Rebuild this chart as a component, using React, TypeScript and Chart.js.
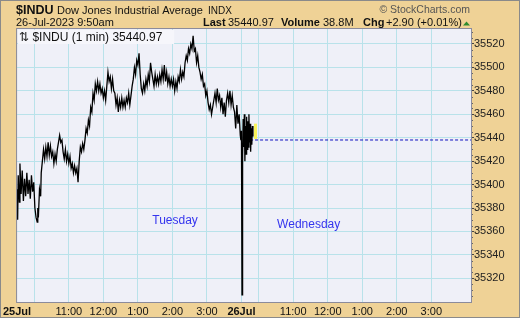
import React, { useEffect, useRef } from "react";
import { Chart, registerables } from "chart.js";

Chart.register(...registerables);

// ---- data (minute index from 25-Jul 9:30; 26-Jul session starts at 390) ----
const minutes = [
  0, 1, 2, 4, 5, 7, 9, 11, 13, 15, 17, 19, 21, 23, 25, 27, 29, 31, 33, 35, 36, 37, 39, 41, 42, 44, 46, 48, 50,
  52, 54, 56, 58, 60, 62, 64, 66, 68, 70, 72, 74, 76, 78, 80, 82, 84, 86, 88, 90, 92, 94, 96, 98, 100, 102,
  104, 106, 108, 110, 112, 114, 116, 118, 120, 122, 124, 126, 128, 130, 132, 134, 136, 138, 140, 142, 144,
  146, 148, 150, 152, 154, 156, 158, 160, 162, 164, 166, 168, 170, 172, 174, 176, 178, 180, 182, 184, 186,
  188, 190, 192, 194, 196, 198, 200, 202, 204, 206, 208, 210, 212, 214, 216, 218, 220, 222, 224, 226, 228,
  230, 232, 234, 236, 238, 240, 242, 244, 246, 248, 250, 252, 254, 256, 258, 260, 262, 264, 266, 268, 270,
  272, 274, 276, 278, 280, 282, 284, 286, 288, 290, 292, 294, 296, 298, 300, 302, 304, 306, 308, 310, 312,
  314, 316, 318, 320, 322, 324, 326, 328, 330, 332, 334, 336, 338, 340, 342, 344, 346, 348, 350, 352, 354,
  356, 358, 360, 362, 364, 366, 368, 370, 372, 374, 376, 378, 380, 382, 384, 386, 388, 389,
  390, 391, 392, 393, 394, 395, 396, 397, 398, 399, 400, 401, 402, 403, 404, 405, 406, 407, 408, 409, 410,
];
const prices = [
  35396, 35370, 35408, 35385, 35418, 35392, 35412, 35386, 35405, 35390, 35410, 35392, 35404, 35388, 35408,
  35394, 35402, 35380, 35372, 35368, 35380, 35372, 35396, 35390, 35410, 35420, 35430, 35422, 35432, 35424,
  35436, 35425, 35433, 35424, 35428, 35418, 35426, 35420, 35430, 35436, 35442, 35436, 35438, 35428, 35422,
  35430, 35420, 35426, 35418, 35424, 35414, 35418, 35410, 35416, 35410, 35414, 35402, 35420, 35432, 35428,
  35435, 35430, 35438, 35448, 35444, 35455, 35450, 35466, 35462, 35478, 35472, 35486, 35480, 35488, 35480,
  35486, 35478, 35482, 35474, 35480, 35472, 35484, 35496, 35488, 35492, 35482, 35490, 35480, 35478, 35468,
  35474, 35462, 35472, 35466, 35474, 35466, 35472, 35466, 35474, 35470, 35478, 35468, 35476, 35484, 35490,
  35500, 35494, 35506, 35502, 35512, 35494, 35482, 35478, 35486, 35480, 35490, 35484, 35494, 35488, 35504,
  35496, 35490, 35484, 35494, 35486, 35492, 35486, 35494, 35488, 35498, 35490, 35502, 35488, 35496, 35486,
  35492, 35484, 35490, 35484, 35490, 35480, 35488, 35482, 35492, 35488, 35498, 35490, 35496, 35492, 35504,
  35510, 35506, 35516, 35512, 35520, 35516, 35527, 35514, 35516, 35504, 35510, 35500, 35496, 35490, 35494,
  35484, 35486, 35476, 35480, 35470, 35464, 35468, 35460, 35466, 35472, 35478, 35470, 35482, 35472, 35476,
  35466, 35474, 35460, 35470, 35458, 35472, 35478, 35470, 35480, 35468, 35476, 35466, 35462, 35448, 35468,
  35452, 35460, 35442, 35438,
  35446, 35306, 35424, 35456, 35432, 35460, 35420, 35450, 35426, 35458, 35430, 35454, 35432, 35460, 35436,
  35452, 35428, 35448, 35434, 35450, 35440.97,
];
const prevClose = 35438.07;
const lastBarMinute = 413;
const lastBarRange = [35439, 35452];
const yTicks = [35320, 35340, 35360, 35380, 35400, 35420, 35440, 35460, 35480, 35500, 35520];
const xTickMinutes = [0, 30, 90, 150, 210, 270, 330, 390, 420, 480, 540, 600, 660, 720];
const xTickLabels = ["25Jul", "", "11:00", "12:00", "1:00", "2:00", "3:00", "26Jul", "", "11:00", "12:00", "1:00", "2:00", "3:00"];
const dayLabels = ["Tuesday", "Wednesday"];
const dayLabelMinutes = [235, 452];
const dayLabelPrices = [35366, 35363];

const FONT = "'Liberation Sans', Arial, sans-serif";
const TAN = "#efd296";
const PLOT_BG = "#eff0f8";
const GRID = "#b9e2ea";

const overlayPlugin = {
  id: "overlay",
  beforeDraw(chart: any) {
    const { ctx, chartArea: a } = chart;
    ctx.save();
    ctx.fillStyle = TAN;
    ctx.fillRect(0, 0, chart.width, chart.height);
    ctx.fillStyle = PLOT_BG;
    ctx.fillRect(a.left, a.top, a.right - a.left, a.bottom - a.top);
    ctx.restore();
  },
  afterDatasetsDraw(chart: any) {
    const { ctx } = chart;
    const xs = chart.scales.x;
    const ys = chart.scales.y;
    ctx.save();
    // last bar highlight
    const bx = xs.getPixelForValue(lastBarMinute);
    const y1 = ys.getPixelForValue(lastBarRange[1]);
    const y0 = ys.getPixelForValue(lastBarRange[0]);
    ctx.fillStyle = "#f8f45a";
    ctx.fillRect(Math.round(bx) - 1, y1, 3, y0 - y1);
    // day labels
    ctx.fillStyle = "#3535ee";
    ctx.font = `12px ${FONT}`;
    ctx.textBaseline = "alphabetic";
    dayLabels.forEach((t, i) => {
      ctx.fillText(t, xs.getPixelForValue(dayLabelMinutes[i]), ys.getPixelForValue(dayLabelPrices[i]));
    });
    ctx.restore();
  },
  afterDraw(chart: any) {
    const { ctx, chartArea: a } = chart;
    const ys = chart.scales.y;
    ctx.save();
    // minor ticks on the right edge
    ctx.fillStyle = "#666";
    for (let v = 35300; v <= 35530; v += 5) {
      if (v % 20 === 0) continue;
      const py = Math.round(ys.getPixelForValue(v));
      if (py > a.top && py < a.bottom) ctx.fillRect(a.right, py, 2, 1);
    }
    // label box in plot
    ctx.fillStyle = "#f6f6fb";
    ctx.fillRect(a.left + 1, a.top + 1, 156, 14);
    ctx.fillStyle = "#111";
    ctx.font = `12px ${FONT}`;
    ctx.textBaseline = "alphabetic";
    ctx.fillText("\u21C5 $INDU (1 min) 35440.97", a.left + 2, a.top + 12);
    // plot border
    ctx.strokeStyle = "#8b8b9b";
    ctx.lineWidth = 1;
    ctx.strokeRect(a.left - 0.5, a.top - 0.5, a.right - a.left + 1, a.bottom - a.top + 1);
    // header
    ctx.fillStyle = "#111";
    ctx.font = `bold 12.5px ${FONT}`;
    ctx.fillText("$INDU", 16, 14);
    ctx.font = `11px ${FONT}`;
    ctx.fillText("Dow Jones Industrial Average", 57, 14);
    ctx.font = `10px ${FONT}`;
    ctx.fillText("INDX", 208, 14);
    ctx.fillStyle = "#555";
    ctx.font = `10.5px ${FONT}`;
    ctx.textAlign = "right";
    ctx.fillText("\u00A9 StockCharts.com", 470, 13);
    ctx.textAlign = "left";
    ctx.fillStyle = "#111";
    ctx.font = `11px ${FONT}`;
    ctx.fillText("26-Jul-2023 9:50am", 16, 26);
    const parts: [string, boolean, number][] = [
      ["Last", true, 203],
      ["35440.97", false, 228],
      ["Volume", true, 281],
      ["38.8M", false, 323],
      ["Chg", true, 363],
      ["+2.90 (+0.01%)", false, 386],
    ];
    parts.forEach(([t, b, x]) => {
      ctx.font = `${b ? "bold 11px" : "11px"} ${FONT}`;
      ctx.fillText(t, x, 26);
    });
    ctx.fillStyle = "#2e8b2e";
    ctx.beginPath();
    ctx.moveTo(463, 25.5);
    ctx.lineTo(470, 25.5);
    ctx.lineTo(466.5, 21.5);
    ctx.closePath();
    ctx.fill();
    // outer border
    ctx.strokeStyle = "#8a8a8a";
    ctx.strokeRect(0.5, 0.5, chart.width - 1, chart.height - 1);
    ctx.restore();
  },
};

export default function App() {
  const ref = useRef<HTMLCanvasElement | null>(null);
  useEffect(() => {
    if (!ref.current) return;
    const pricePoints = minutes.map((m, i) => ({ x: m, y: prices[i] }));
    const chart = new Chart(ref.current, {
      type: "line",
      data: {
        datasets: [
          {
            data: pricePoints,
            borderColor: "#000",
            borderWidth: 1.3,
            pointRadius: 0,
            tension: 0,
          },
          {
            data: [
              { x: 405, y: prevClose },
              { x: 789, y: prevClose },
            ],
            borderColor: "#1010c0",
            borderWidth: 1,
            borderDash: [3, 2],
            pointRadius: 0,
          },
        ],
      },
      options: {
        animation: false,
        responsive: false,
        events: [],
        layout: { padding: { left: 17, top: 29, right: 0, bottom: 0 } },
        plugins: { legend: { display: false }, tooltip: { enabled: false } },
        scales: {
          x: {
            type: "linear",
            min: 0,
            max: 789,
            afterFit: (s: any) => {
              s.height = 16;
            },
            afterBuildTicks: (s: any) => {
              s.ticks = xTickMinutes.map((v) => ({ value: v }));
            },
            border: { display: false },
            grid: {
              color: (c: any) => (c.tick && c.tick.value === 0 ? "rgba(0,0,0,0)" : GRID),
              drawTicks: false,
            },
            ticks: {
              autoSkip: false,
              maxRotation: 0,
              padding: 3,
              color: "#111",
              font: (c: any) => ({
                family: FONT,
                size: 11,
                weight: c.tick && (c.tick.value === 0 || c.tick.value === 390) ? "bold" : "normal",
              }),
              callback: (v: any) => {
                const i = xTickMinutes.indexOf(Number(v));
                return i >= 0 ? xTickLabels[i] : "";
              },
            },
          },
          y: {
            position: "right",
            min: 35299.8,
            max: 35532.8,
            afterFit: (s: any) => {
              s.width = 49;
            },
            afterBuildTicks: (s: any) => {
              s.ticks = yTicks.map((v) => ({ value: v }));
            },
            border: { display: false },
            grid: { color: GRID, tickColor: "#444", tickLength: 3 },
            ticks: {
              padding: 0,
              color: "#222",
              font: { family: FONT, size: 11 },
              callback: (v: any) => String(v),
            },
          },
        },
      },
      plugins: [overlayPlugin],
    });
    return () => chart.destroy();
  }, []);
  return (
    <div style={{ position: "absolute", left: 0, top: 0, width: 520, height: 318 }}>
      <canvas ref={ref} width={520} height={318} style={{ display: "block", width: 520, height: 318 }} />
    </div>
  );
}
